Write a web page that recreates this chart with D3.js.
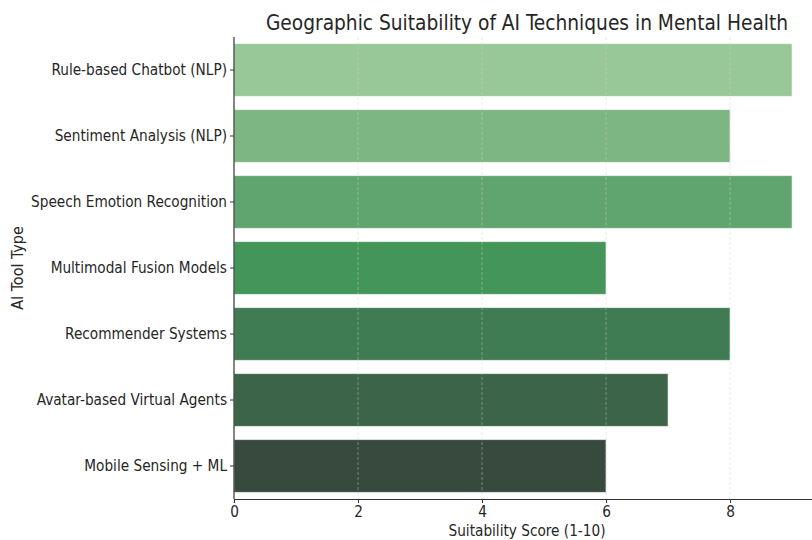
<!DOCTYPE html>
<html>
<head>
<meta charset="utf-8">
<script src="https://cdn.jsdelivr.net/npm/d3@7"></script>
<style>
  html, body { margin: 0; padding: 0; background: #fff; }
  svg { display: block; }
  text { font-family: "DejaVu Sans Condensed", "DejaVu Sans", sans-serif; fill: #262626; }
</style>
</head>
<body>
<svg id="chart" width="812" height="540"></svg>
<script>
// AI technique categories and their suitability scores
const tools = [
  "Rule-based Chatbot (NLP)",
  "Sentiment Analysis (NLP)",
  "Speech Emotion Recognition",
  "Multimodal Fusion Models",
  "Recommender Systems",
  "Avatar-based Virtual Agents",
  "Mobile Sensing + ML"
];
const scores = [9, 8, 9, 6, 8, 7, 6];
const barColors = ["#98c898", "#7db682", "#60a56f", "#43955a", "#3f7c53", "#3b6449", "#374a3d"];
const xTicks = [0, 2, 4, 6, 8];

const svg = d3.select("#chart");
const plotLeft = 234, plotRight = 820, plotTop = 37, plotBottom = 499;
const labelFont = '"DejaVu Sans Condensed", "DejaVu Sans", sans-serif';

const x = d3.scaleLinear().domain([0, 9.45]).range([plotLeft, plotRight]);
const y = d3.scaleBand().domain(tools).range([plotTop, plotBottom]).paddingInner(0.2).paddingOuter(0.1);

// bars
svg.append("g").selectAll("rect")
  .data(tools)
  .join("rect")
  .attr("x", x(0))
  .attr("y", d => y(d))
  .attr("width", (d, i) => x(scores[i]) - x(0))
  .attr("height", y.bandwidth())
  .attr("fill", (d, i) => barColors[i])
  .attr("stroke", "#ffffff")
  .attr("stroke-opacity", 0.6)
  .attr("stroke-width", 1);

// vertical dashed grid lines
svg.append("g").selectAll("line")
  .data(xTicks.filter(t => t > 0))
  .join("line")
  .attr("x1", d => x(d)).attr("x2", d => x(d))
  .attr("y1", plotTop).attr("y2", plotBottom)
  .attr("stroke", "#cfcfcf")
  .attr("stroke-opacity", 0.55)
  .attr("stroke-width", 0.8)
  .attr("stroke-dasharray", "3,2");

// x axis
const xAxis = svg.append("g")
  .attr("transform", `translate(0,${plotBottom})`)
  .call(d3.axisBottom(x).tickValues(xTicks).tickFormat(d3.format("d")).tickSize(4).tickPadding(3));
xAxis.select(".domain").attr("stroke", "#333").attr("stroke-width", 1.2);
xAxis.selectAll(".tick line").attr("stroke", "#333");
xAxis.selectAll("text").style("font-size", "15.2px").attr("fill", "#262626")
  .style("font-family", labelFont);

// y axis
const yAxis = svg.append("g")
  .attr("transform", `translate(${plotLeft},0)`)
  .call(d3.axisLeft(y).tickSize(4).tickPadding(3));
yAxis.select(".domain").attr("stroke", "#333").attr("stroke-width", 1.2)
  .attr("d", `M0,${plotTop}V${plotBottom}`);
yAxis.selectAll(".tick line").attr("stroke", "#333");
yAxis.selectAll("text").style("font-size", "15.2px").attr("fill", "#262626")
  .style("font-family", labelFont);

// title
svg.append("text")
  .attr("x", (plotLeft + plotRight) / 2)
  .attr("y", 30)
  .attr("text-anchor", "middle")
  .style("font-size", "20.7px")
  .text("Geographic Suitability of AI Techniques in Mental Health");

// axis labels
svg.append("text")
  .attr("x", (plotLeft + plotRight) / 2)
  .attr("y", 536)
  .attr("text-anchor", "middle")
  .style("font-size", "15.2px")
  .text("Suitability Score (1-10)");

svg.append("text")
  .attr("transform", `translate(23,${(plotTop + plotBottom) / 2}) rotate(-90)`)
  .attr("text-anchor", "middle")
  .style("font-size", "16px")
  .text("AI Tool Type");
</script>
</body>
</html>
